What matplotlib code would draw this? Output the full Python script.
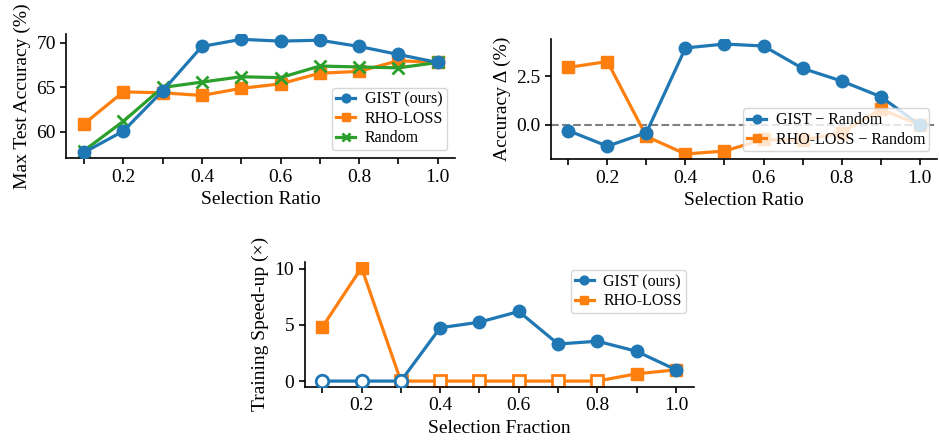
import numpy as np
import matplotlib
matplotlib.use('Agg')
import matplotlib.pyplot as plt

plt.rcParams['font.family'] = ['Liberation Serif', 'DejaVu Serif']
plt.rcParams['font.size'] = 14
plt.rcParams['axes.linewidth'] = 1.2
plt.rcParams['xtick.major.width'] = 1.2
plt.rcParams['ytick.major.width'] = 1.2
plt.rcParams['xtick.major.size'] = 4
plt.rcParams['ytick.major.size'] = 4

#Data
ratio = [0.1, 0.2, 0.3, 0.4, 0.5, 0.6, 0.7, 0.8, 0.9, 1.0]
gist_acc = [57.7, 60.1, 64.6, 69.6, 70.4, 70.2, 70.3, 69.6, 68.7, 67.8]
rho_acc = [60.9, 64.5, 64.4, 64.1, 64.9, 65.4, 66.6, 66.8, 68.0, 67.8]
rand_acc = [57.9, 61.2, 65.0, 65.6, 66.2, 66.1, 67.4, 67.3, 67.2, 67.8]

gist_delta = [-0.3, -1.1, -0.4, 3.95, 4.15, 4.05, 2.9, 2.25, 1.45, 0.0]
rho_delta = [2.95, 3.25, -0.6, -1.5, -1.35, -0.75, -0.8, -0.4, 0.8, 0.0]

gist_speed = [0.0, 0.0, 0.0, 4.75, 5.25, 6.2, 3.3, 3.55, 2.65, 1.0]
rho_speed = [4.8, 10.1, 0.0, 0.0, 0.0, 0.0, 0.0, 0.0, 0.65, 1.0]

xtick_pos = ratio
xtick_lab = ['', '0.2', '', '0.4', '', '0.6', '', '0.8', '', '1.0']

blue = '#1f77b4'
orange = '#ff7f0e'
green = '#2ca02c'
lw = 2.3
ms = 9
leg = dict(fontsize=11.5, labelspacing=0.2, handlelength=1.2, handletextpad=0.6,
           borderpad=0.25, markerscale=0.7)

fig = plt.figure(figsize=(9.4, 4.43), dpi=100)
ax1 = fig.add_axes([0.0705, 0.643, 0.414, 0.281])
ax2 = fig.add_axes([0.586, 0.640, 0.411, 0.273])
ax3 = fig.add_axes([0.324, 0.127, 0.414, 0.2815])

for a in (ax1, ax2, ax3):
    a.spines['top'].set_visible(False)
    a.spines['right'].set_visible(False)
    a.set_xticks(xtick_pos)
    a.set_xticklabels(xtick_lab)

#Top left - accuracy
ax1.plot(ratio, gist_acc, color=blue, marker='o', lw=lw, ms=ms, label='GIST (ours)', zorder=3)
ax1.plot(ratio, rho_acc, color=orange, marker='s', lw=lw, ms=ms, label='RHO-LOSS')
ax1.plot(ratio, rand_acc, color=green, marker='x', lw=lw, ms=ms, mew=2, label='Random')
ax1.set_yticks([60, 65, 70])
ax1.set_xlabel('Selection Ratio')
ax1.set_ylabel('Max Test Accuracy (%)')
ax1.legend(loc='lower right', **leg)

#Top right - difference to random
ax2.axhline(0, color='gray', ls='--', lw=1.5, zorder=1)
ax2.plot(ratio, gist_delta, color=blue, marker='o', lw=lw, ms=ms, label='GIST \u2212 Random', zorder=3)
ax2.plot(ratio, rho_delta, color=orange, marker='s', lw=lw, ms=ms, label='RHO-LOSS \u2212 Random', zorder=2)
ax2.set_yticks([0.0, 2.5])
ax2.set_yticklabels(['0.0', '2.5'])
ax2.set_xlabel('Selection Ratio')
ax2.set_ylabel('Accuracy \u0394 (%)')
ax2.legend(loc='lower right', **leg)

#Bottom - speed-up, hollow markers where the run never reached random
g = np.array(gist_speed)
r = np.array(rho_speed)
g_zero = list(np.where(g == 0)[0])
g_full = list(np.where(g != 0)[0])
r_zero = list(np.where(r == 0)[0])
r_full = list(np.where(r != 0)[0])

ax3.plot(ratio, rho_speed, color=orange, lw=lw, marker='s', ms=ms, markevery=r_full, label='RHO-LOSS', zorder=2)
ax3.plot(ratio, rho_speed, color=orange, lw=0, marker='s', ms=ms, mfc='white', mew=2, markevery=r_zero, zorder=2)
ax3.plot(ratio, gist_speed, color=blue, lw=lw, marker='o', ms=ms, markevery=g_full, label='GIST (ours)', zorder=3)
ax3.plot(ratio, gist_speed, color=blue, lw=0, marker='o', ms=ms, mfc='white', mew=2, markevery=g_zero, zorder=3)
ax3.set_yticks([0, 5, 10])
ax3.set_xlabel('Selection Fraction')
ax3.set_ylabel('Training Speed-up (\u00d7)')
h, l = ax3.get_legend_handles_labels()
ax3.legend([h[1], h[0]], [l[1], l[0]], loc='upper right', **leg)

fig.savefig('out.png', dpi=100)
